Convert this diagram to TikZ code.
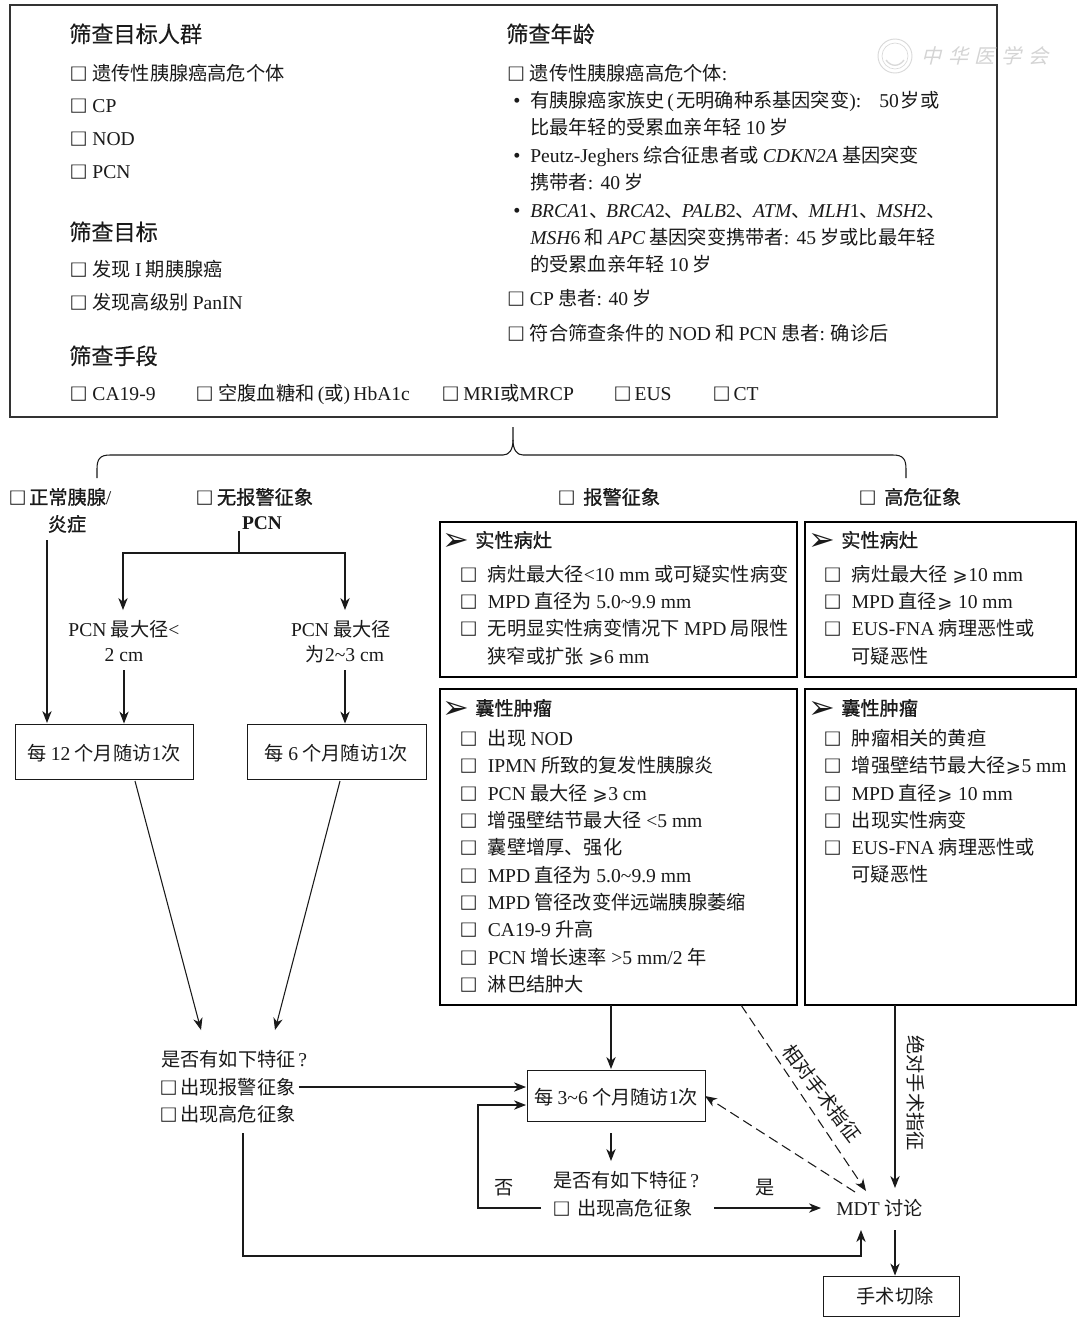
\documentclass[tikz,border=0pt]{standalone}
\usepackage{fontspec}
\usetikzlibrary{arrows.meta}
\setmainfont{Noto Sans CJK SC}
\newfontfamily\latf{Liberation Serif}[Scale=1.02]
\newfontfamily\dejaf{DejaVu Sans}
\newfontfamily\wmf{Noto Sans CJK SC}[FakeSlant=0.25]
\newfontfamily\medf{Noto Sans CJK SC}[FakeBold=0.35]
\newfontfamily\semif{Noto Sans CJK SC}[FakeBold=0.8]
\newcommand{\en}[1]{{\latf #1}}
\newcommand{\ita}[1]{{\latf\itshape #1}}
\newcommand{\gq}{\hspace{0.4pt}{\dejaf\fontsize{13.5}{14}\selectfont ⩾}\hspace{0.4pt}}
\newcommand{\cbox}{\hspace{-1.2pt}{\medf\fontsize{13.2}{15}\selectfont □}}
\newcommand{\cb}{\makebox[15.9pt][l]{\cbox}}
\newcommand{\cbn}{\makebox[14.2pt][l]{\cbox}}
\newcommand{\cbw}{\makebox[19.9pt][l]{\cbox}}
\definecolor{ink}{HTML}{1A1A1A}
\definecolor{edge}{HTML}{333333}
\tikzset{
  t/.style={anchor=west,inner sep=0pt,text=ink,text height=12.6pt,text depth=1.7pt,font=\fontsize{14.4}{16}\selectfont},
  tc/.style={t,anchor=center},
  hd/.style={t,text height=14.5pt,text depth=2pt,font=\medf\fontsize{16.6}{18}\selectfont},
  bd/.style={t,font=\semif\fontsize{14.4}{16}\selectfont},
  bulletmark/.style={tc,font=\latf\fontsize{15}{16}\selectfont},
  chev/.style={tc,font=\dejaf\fontsize{24}{26}\selectfont},
  framebox/.style={draw=ink,line width=0.75pt,inner sep=0pt,text=ink,text height=14.6pt,text depth=1.7pt,font=\fontsize{14.4}{16}\selectfont},
  topframe/.style={draw=edge,line width=0.9pt,inner sep=0pt},
  heavybox/.style={draw=black,line width=1.5pt,inner sep=0pt},
  arr/.style={draw=ink,line width=0.8pt,-{Stealth[length=9pt,width=7pt,inset=2.8pt]}},
  arrd/.style={arr,dash pattern=on 7.5pt off 4pt},
  ln/.style={draw=ink,line width=0.8pt},
  wmk/.style={anchor=center,inner sep=0pt,text=black!17,font=\wmf\fontsize{15}{16}\selectfont}
}
\begin{document}
\begin{tikzpicture}[x=0.75pt,y=-0.75pt]
\useasboundingbox (0,0) rectangle (1080,1322);
\fill[white] (0,0) rectangle (1080,1322);

% top box
\node[topframe,minimum width=987*0.75pt,minimum height=412*0.75pt] (top) at (503.5,211) {};

% watermark
\draw[black!15,line width=0.7pt] (895,56) circle (17);
\draw[black!15,line width=0.5pt] (895,56) circle (13);
\draw[black!15,line width=1pt] (886,60) .. controls (891,67) and (899,67) .. (904,60);
\node[wmk] (wm) at (985,56) {中\hspace{5pt}华\hspace{5pt}医\hspace{5pt}学\hspace{5pt}会};

% left column
\node[hd] (h1) at (69,34) {筛查目标人群};
\node[t] (a1) at (71,73) {\cb 遗传性胰腺癌高危个体};
\node[t] (a2) at (71,105) {\cb\en{CP}};
\node[t] (a3) at (71,138) {\cb\en{NOD}};
\node[t] (a4) at (71,171) {\cb\en{PCN}};
\node[hd] (h2) at (69,232) {筛查目标};
\node[t] (a5) at (71,269) {\cb 发现 \en{I} 期胰腺癌};
\node[t] (a6) at (71,302) {\cb 发现高级别 \en{PanIN}};
\node[hd] (h3) at (69,356) {筛查手段};
\node[t] (m1) at (71,393) {\cb\en{CA19-9}};
\node[t] (m2) at (197,393) {\cb 空腹血糖和\hspace{2.5pt}\en{(}或\en{)}\hspace{2.5pt}\en{HbA1c}};
\node[t] (m3) at (443,393) {\makebox[15pt][l]{\cbox}\en{MRI}或\en{MRCP}};
\node[t] (m4) at (615,393) {\makebox[14.5pt][l]{\cbox}\en{EUS}};
\node[t] (m5) at (714,393) {\makebox[14.5pt][l]{\cbox}\en{CT}};

% right column
\node[hd] (h4) at (506,34) {筛查年龄};
\node[t] (r1) at (508.5,73) {\cb 遗传性胰腺癌高危个体\en{:}};
\node[bulletmark] (d1) at (517,100) {•};
\node[t] (r2) at (530,100) {有胰腺癌家族史\hspace{2pt}\en{(}\hspace{2pt}无明确种系基因突变\en{):}\hspace{13.5pt}\en{50}\hspace{1.5pt}岁或};
\node[t] (r3) at (530,127) {比最年轻的受累血亲年轻 \en{10} 岁};
\node[bulletmark] (d2) at (517,155) {•};
\node[t] (r4) at (530,155) {\en{Peutz-Jeghers} 综合征患者或 \ita{CDKN2A} 基因突变};
\node[t] (r5) at (530,182) {携带者\en{:}\hspace{5.5pt}\en{40} 岁};
\node[bulletmark] (d3) at (517,210) {•};
\node[t] (r6) at (530,210) {\ita{BRCA}\en{1}、\hspace{-1.6pt}\ita{BRCA}\en{2}、\hspace{-1.6pt}\ita{PALB}\en{2}、\hspace{-1.6pt}\ita{ATM}、\hspace{-1.6pt}\ita{MLH}\en{1}、\hspace{-1.6pt}\ita{MSH}\en{2}、};
\node[t] (r7) at (530,237) {\ita{MSH}\en{6} 和 \ita{APC} 基因突变携带者\en{:}\hspace{5.5pt}\en{45} 岁或比最年轻};
\node[t] (r8) at (530,264) {的受累血亲年轻 \en{10} 岁};
\node[t] (r9) at (508.5,298) {\cb\en{CP} 患者\en{: 40} 岁};
\node[t] (r10) at (508.5,333) {\cb 符合筛查条件的 \en{NOD} 和 \en{PCN} 患者\en{:} 确诊后};

% brace
\coordinate (brT) at (513,427);
\coordinate (brL) at (97,478);
\coordinate (brR) at (906,478);
\draw[ln] (brL) -- (97,469) .. controls (97,459) and (100,455) .. (110,455) -- (503,455)
  .. controls (509,455) and (513,450) .. (513,440) -- (brT);
\draw[ln] (brR) -- (906,469) .. controls (906,459) and (903,455) .. (893,455) -- (523,455)
  .. controls (517,455) and (513,450) .. (513,440);

% category labels
\node[bd] (c1) at (10,497) {\makebox[14.2pt][l]{\cbox}正常胰腺\en{/}};
\node[bd,anchor=center] (c1b) at (67,524) {炎症};
\node[bd] (c2) at (197,497) {\makebox[14.8pt][l]{\cbox}无报警征象};
\node[tc,font=\latf\bfseries\fontsize{14.3}{16}\selectfont] (c2b) at (262,522) {PCN};
\node[bd] (c3) at (559,497) {\makebox[18pt][l]{\cbox}报警征象};
\node[bd] (c4) at (860,497) {\makebox[18pt][l]{\cbox}高危征象};

% heavy boxes
\node[heavybox,minimum width=357*0.75pt,minimum height=155*0.75pt] (as) at (618.5,599.5) {};
\node[heavybox,minimum width=271*0.75pt,minimum height=155*0.75pt] (hs) at (940.5,599.5) {};
\node[heavybox,minimum width=357*0.75pt,minimum height=316*0.75pt] (ac) at (618.5,847) {};
\node[heavybox,minimum width=271*0.75pt,minimum height=316*0.75pt] (hc) at (940.5,847) {};

% alarm solid
\node[chev] (ch1) at (456,543) {➢};
\node[bd] (as0) at (475,540) {实性病灶};
\node[t] (as1) at (461,574) {\cbw 病灶最大径\en{<10 mm} 或可疑实性病变};
\node[t] (as2) at (461,601) {\cbw\en{MPD} 直径为 \en{5.0\textasciitilde 9.9 mm}};
\node[t] (as3) at (461,628) {\cbw 无明显实性病变情况下 \en{MPD} 局限性};
\node[t] (as4) at (487.5,656) {狭窄或扩张 \gq\en{6 mm}};

% high solid
\node[chev] (ch2) at (822,543) {➢};
\node[bd] (hs0) at (841,540) {实性病灶};
\node[t] (hs1) at (825,574) {\cbw 病灶最大径 \gq\en{10 mm}};
\node[t] (hs2) at (825,601) {\cbw\en{MPD} 直径\gq\en{ 10 mm}};
\node[t] (hs3) at (825,628) {\cbw\en{EUS-FNA} 病理恶性或};
\node[t] (hs4) at (851.5,656) {可疑恶性};

% alarm cyst
\node[chev] (ch3) at (456,711) {➢};
\node[bd] (ac0) at (475,708) {囊性肿瘤};
\node[t] (ac1) at (461,738) {\cbw 出现 \en{NOD}};
\node[t] (ac2) at (461,765) {\cbw\en{IPMN} 所致的复发性胰腺炎};
\node[t] (ac3) at (461,793) {\cbw\en{PCN} 最大径 \gq\en{3 cm}};
\node[t] (ac4) at (461,820) {\cbw 增强壁结节最大径\en{ <5 mm}};
\node[t] (ac5) at (461,847) {\cbw 囊壁增厚、强化};
\node[t] (ac6) at (461,875) {\cbw\en{MPD} 直径为 \en{5.0\textasciitilde 9.9 mm}};
\node[t] (ac7) at (461,902) {\cbw\en{MPD} 管径改变伴远端胰腺萎缩};
\node[t] (ac8) at (461,929) {\cbw\en{CA19-9} 升高};
\node[t] (ac9) at (461,957) {\cbw\en{PCN} 增长速率 \en{>5 mm/2} 年};
\node[t] (ac10) at (461,984) {\cbw 淋巴结肿大};

% high cyst
\node[chev] (ch4) at (822,711) {➢};
\node[bd] (hc0) at (841,708) {囊性肿瘤};
\node[t] (hc1) at (825,738) {\cbw 肿瘤相关的黄疸};
\node[t] (hc2) at (825,765) {\cbw 增强壁结节最大径\gq\en{5 mm}};
\node[t] (hc3) at (825,793) {\cbw\en{MPD} 直径\gq\en{ 10 mm}};
\node[t] (hc4) at (825,820) {\cbw 出现实性病变};
\node[t] (hc5) at (825,847) {\cbw\en{EUS-FNA} 病理恶性或};
\node[t] (hc6) at (851.5,874) {可疑恶性};

% left tree
\node[tc] (p1a) at (124,629) {\en{PCN} 最大径\en{<}};
\node[tc] (p1b) at (124,654) {\en{2 cm}};
\node[tc] (p2a) at (341,629) {\en{PCN} 最大径};
\node[tc] (p2b) at (345,654) {为\en{2\textasciitilde 3 cm}};
\node[framebox,minimum width=178*0.75pt,minimum height=55*0.75pt] (f12) at (104,751.5) {每 \en{12} 个月随访\en{1}次};
\node[framebox,minimum width=179*0.75pt,minimum height=55*0.75pt] (f6) at (336.5,751.5) {每 \en{6} 个月随访\en{1}次};

\coordinate (v0) at (47,540);
\coordinate (v0e) at (47,723);
\draw[arr] (v0) -- (v0e);
\coordinate (s0) at (239,531);
\coordinate (s1) at (239,553);
\coordinate (sl) at (123,610);
\coordinate (sr) at (345,610);
\draw[ln] (s0) -- (s1);
\draw[arr] (s1) -| (sl);
\draw[arr] (s1) -| (sr);
\draw[arr] (124,670) -- (f12.north -| 124,0);
\draw[arr] (345,670) -- (f6.north -| 345,0);

% question 1
\node[t] (q1) at (161,1059) {是否有如下特征\hspace{2pt}\en{?}};
\node[t] (q1a) at (161,1087) {\cbn 出现报警征象};
\node[t] (q1b) at (161,1114) {\cbn 出现高危征象};
\coordinate (qin1) at (201,1030);
\coordinate (qin2) at (275,1030);
\draw[arr] (135,781) -- (qin1);
\draw[arr] (340,781) -- (qin2);

% follow-up
\node[framebox,minimum width=178*0.75pt,minimum height=51*0.75pt] (f3) at (616,1095.5) {每 \en{3\textasciitilde 6} 个月随访\en{1}次};
\node[t] (q2) at (553,1180) {是否有如下特征\hspace{2pt}\en{?}};
\node[t] (q2a) at (554,1208) {\makebox[17.2pt][l]{\cbox}出现高危征象};
\node[tc] (no) at (504,1187) {否};
\node[tc] (yes) at (765,1187) {是};
\node[t] (mdt) at (836,1208) {\en{MDT} 讨论};
\node[framebox,text height=12.6pt,minimum width=136*0.75pt,minimum height=40*0.75pt] (op) at (891,1296) {\hspace{6pt}手术切除};

\draw[arr] (q1a.east) ++(3,0) coordinate (qa) -- (526,1087);
\draw[arr] (611,1005) -- (611,1069);
\draw[arr] (611,1133) -- (611,1161);
\draw[arr] (541,1208) -- (478,1208) -- (478,1105) -- (526,1105);
\draw[arr] (714,1208) -- (821,1208);
\draw[arr] (895,1005) -- (895,1188);
\draw[arrd] (741,1005) -- (866,1191);
\draw[arrd] (855,1192) -- (705,1096);
\draw[arr] (243,1133) -- (243,1256) -- (861,1256) -- (861,1230);
\draw[arr] (895,1230) -- (op.north -| 895,0);

\node[tc,rotate=-90] (abs) at (916,1093) {绝对手术指征};
\node[tc,rotate=-53] (rel) at (822,1093) {相对手术指征};
\end{tikzpicture}
\end{document}
